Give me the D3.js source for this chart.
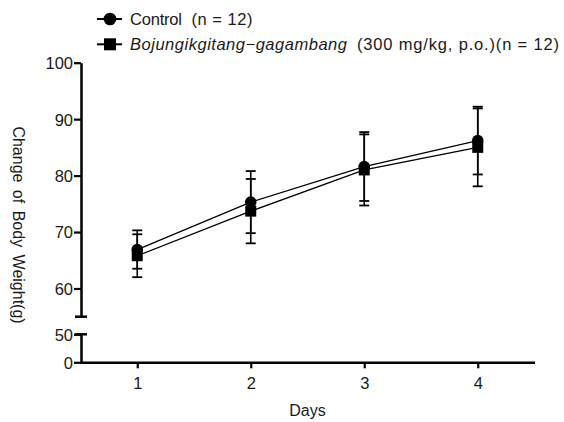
<!DOCTYPE html>
<html><head><meta charset="utf-8">
<script src="https://cdn.jsdelivr.net/npm/d3@7/dist/d3.min.js"></script>
<style>body{margin:0;background:#fff}svg{display:block;font-family:"Liberation Sans",Arial,sans-serif}</style>
</head><body><svg id="c" width="564" height="422"></svg>
<script>
const days = [1, 2, 3, 4];
const controlMean = [66.9, 75.3, 81.6, 86.2];
const controlSem = [3.4, 5.5, 6.1, 6.0];
const bojungMean = [65.8, 73.7, 81.0, 85.0];
const bojungSem = [3.8, 5.7, 6.3, 6.9];
const yTicksUpper = [60, 70, 80, 90, 100];
const yTicksLower = [0, 50];
const xTicks = [1, 2, 3, 4];

const svg = d3.select("#c");
const x = d3.scaleLinear().domain([0.5, 4.5]).range([80.5, 534.5]);
const yU = d3.scaleLinear().domain([55, 100]).range([316.7, 62.7]);
const yL = d3.scaleLinear().domain([0, 50]).range([362.3, 334.3]);
const axisX = 81;
const txt = "#1a1a1a";
const FONT = '"Liberation Sans",Arial,sans-serif';

const gU = svg.append("g").attr("transform", `translate(${axisX},0)`)
  .call(d3.axisLeft(yU).tickValues(yTicksUpper).tickSize(7).tickSizeOuter(0).tickPadding(1));
const gL = svg.append("g").attr("transform", `translate(${axisX},0)`)
  .call(d3.axisLeft(yL).tickValues(yTicksLower).tickSize(7).tickSizeOuter(0).tickPadding(1));
const gX = svg.append("g").attr("transform", `translate(0,${yL(0)})`)
  .call(d3.axisBottom(x).tickValues(xTicks).tickFormat(d3.format("d")).tickSize(6).tickSizeOuter(0).tickPadding(9));

[gU, gL, gX].forEach(g => {
  g.select(".domain").attr("stroke", "#000").attr("stroke-width", 2.5);
  g.selectAll(".tick line").attr("stroke", "#000").attr("stroke-width", 2.2);
  g.selectAll(".tick text").attr("fill", txt).style("font-size", "16.5px").style("font-family", FONT);
});
gU.selectAll(".tick text").attr("dy", "0.36em");
gL.selectAll(".tick text").attr("dy", "0.36em");

// break caps
svg.append("line").attr("x1", axisX - 6).attr("x2", axisX + 6)
  .attr("y1", yU(55)).attr("y2", yU(55)).attr("stroke", "#000").attr("stroke-width", 2.5);
svg.append("line").attr("x1", axisX - 6).attr("x2", axisX + 6)
  .attr("y1", yL(50)).attr("y2", yL(50)).attr("stroke", "#000").attr("stroke-width", 2.5);

// axis titles
svg.append("text").attr("x", x(2.5)).attr("y", 416).attr("text-anchor", "middle")
  .attr("fill", txt).style("font-size", "16px").text("Days");
svg.append("text").attr("transform", `translate(13,225) rotate(90)`)
  .attr("text-anchor", "middle").attr("fill", txt).style("font-size", "16px")
  .style("word-spacing", "3px")
  .text("Change of Body Weight(g)");

function series(mean, sem) {
  const data = days.map((d, i) => ({ d, m: mean[i], s: sem[i] }));
  const g = svg.append("g");
  data.forEach(p => {
    g.append("line").attr("x1", x(p.d)).attr("x2", x(p.d))
      .attr("y1", yU(p.m + p.s)).attr("y2", yU(p.m - p.s)).attr("stroke", "#000").attr("stroke-width", 1.6);
    [p.m + p.s, p.m - p.s].forEach(v => {
      g.append("line").attr("x1", x(p.d) - 5).attr("x2", x(p.d) + 5)
        .attr("y1", yU(v)).attr("y2", yU(v)).attr("stroke", "#000").attr("stroke-width", 1.8);
    });
  });
  g.append("path").datum(data)
    .attr("d", d3.line().x(p => x(p.d)).y(p => yU(p.m)))
    .attr("fill", "none").attr("stroke", "#000").attr("stroke-width", 1.3);
  return { g, data };
}

const s2 = series(bojungMean, bojungSem);
const s1 = series(controlMean, controlSem);
s2.data.forEach(p => s2.g.append("rect").attr("x", x(p.d) - 5.5).attr("y", yU(p.m) - 5.5)
  .attr("width", 11).attr("height", 11).attr("fill", "#000"));
s1.data.forEach(p => s1.g.append("circle").attr("cx", x(p.d)).attr("cy", yU(p.m)).attr("r", 5.8).attr("fill", "#000"));

// legend
const leg = svg.append("g");
const legRows = [{ y: 19, shape: "circle" }, { y: 44.3, shape: "square" }];
legRows.forEach(r => {
  leg.append("line").attr("x1", 97).attr("x2", 122).attr("y1", r.y).attr("y2", r.y)
    .attr("stroke", "#000").attr("stroke-width", 2);
  if (r.shape === "circle") leg.append("circle").attr("cx", 110).attr("cy", r.y).attr("r", 6.3).attr("fill", "#000");
  else leg.append("rect").attr("x", 104).attr("y", r.y - 6).attr("width", 12).attr("height", 12).attr("fill", "#000");
});
const t1 = leg.append("text").attr("y", 25).attr("fill", txt).style("font-size", "16.5px");
t1.append("tspan").attr("x", 130).attr("textLength", 52).text("Control");
t1.append("tspan").attr("x", 191.5).attr("textLength", 61).text("(n = 12)");
const t2 = leg.append("text").attr("y", 50).attr("fill", txt).style("font-size", "16.5px");
t2.append("tspan").attr("x", 130).attr("textLength", 217).style("font-style", "italic").text("Bojungikgitang\u2212gagambang");
t2.append("tspan").attr("x", 357).attr("textLength", 202).text("(300 mg/kg, p.o.)(n = 12)");
</script></body></html>
